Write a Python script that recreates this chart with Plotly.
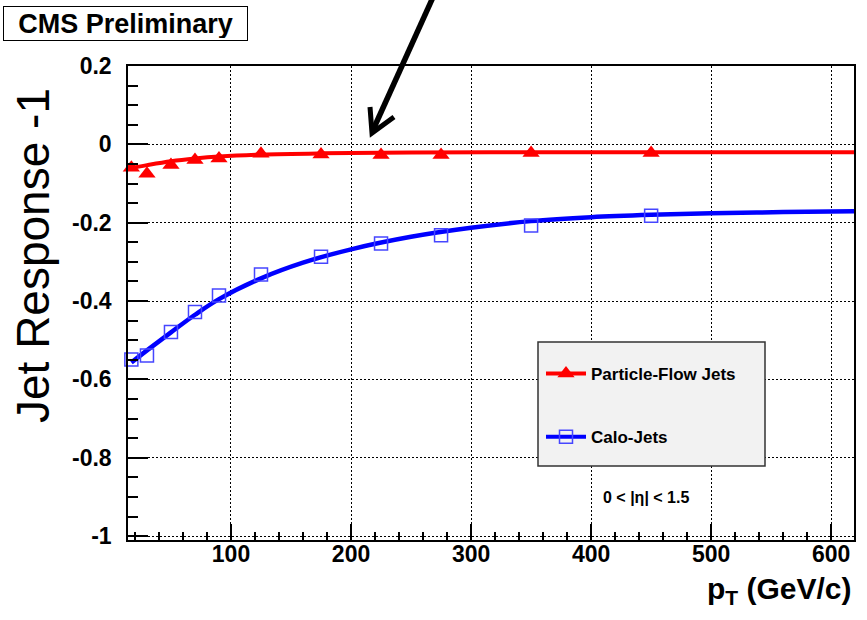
import plotly.graph_objects as go

# ---- data ----
pt_bins = [17, 30, 50, 70, 90, 125, 175, 225, 275, 350, 450]
resp_pf = [-0.060, -0.075, -0.053, -0.040, -0.036, -0.024, -0.026, -0.027, -0.027, -0.022, -0.022]
resp_calo = [-0.549, -0.539, -0.479, -0.428, -0.386, -0.332, -0.287, -0.253, -0.232, -0.207, -0.182]

fit_pf_x = [14, 30, 50, 70, 90, 125, 175, 250, 350, 450, 619]
fit_pf_y = [-0.062, -0.053, -0.043, -0.036, -0.031, -0.026, -0.023, -0.021, -0.020, -0.020, -0.020]
fit_calo_x = [17, 30, 50, 70, 90, 125, 160, 200, 250, 300, 350, 400, 450, 500, 560, 619]
fit_calo_y = [-0.557, -0.526, -0.480, -0.435, -0.395, -0.342, -0.302, -0.268, -0.236, -0.213,
              -0.196, -0.186, -0.180, -0.176, -0.173, -0.171]

y_ticks = [0.2, 0, -0.2, -0.4, -0.6, -0.8, -1]
y_ticklabels = ["0.2", "0", "-0.2", "-0.4", "-0.6", "-0.8", "-1"]
x_ticks = [100, 200, 300, 400, 500, 600]
x_ticklabels = ["100", "200", "300", "400", "500", "600"]

name_pf = "Particle-Flow Jets"
name_calo = "Calo-Jets"

RED = "#ff0000"
BLUE = "#0000ff"
FONT = "Liberation Sans"

fig = go.Figure()

fig.add_trace(go.Scatter(x=fit_pf_x, y=fit_pf_y, mode="lines", line=dict(color=RED, width=4, shape="spline"),
                         showlegend=False, hoverinfo="skip"))
fig.add_trace(go.Scatter(x=fit_calo_x, y=fit_calo_y, mode="lines", line=dict(color=BLUE, width=4.5, shape="spline"),
                         showlegend=False, hoverinfo="skip"))
fig.add_trace(go.Scatter(x=pt_bins, y=resp_pf, mode="markers", cliponaxis=False,
                         marker=dict(symbol="triangle-up", size=15, color=RED, line=dict(width=0)),
                         showlegend=False))
fig.add_trace(go.Scatter(x=pt_bins, y=resp_calo, mode="markers", cliponaxis=False,
                         marker=dict(symbol="square-open", size=13, color="rgb(70,70,255)", line=dict(width=1.5)),
                         showlegend=False))

# legend entries
fig.add_trace(go.Scatter(x=[None], y=[None], mode="lines+markers", name=name_pf, legendgroup="pf",
                         line=dict(color=RED, width=4),
                         marker=dict(symbol="triangle-up", size=15, color=RED)))
fig.add_trace(go.Scatter(x=[None], y=[None], mode="lines+markers", name=name_calo, legendgroup="calo",
                         line=dict(color=BLUE, width=4),
                         marker=dict(symbol="square-open", size=13, color="rgb(70,70,255)", line=dict(width=1.5))))

axis_common = dict(
    showline=True, linecolor="black", linewidth=1.5, mirror=True,
    ticks="inside", tickcolor="black", tickwidth=1.5,
    showgrid=True, gridcolor="black", gridwidth=1, griddash="2px,2px",
    zeroline=False,
    tickfont=dict(family=FONT, size=23, color="black", weight="bold"),
)

fig.update_xaxes(range=[14.2, 619], tickmode="array", tickvals=x_ticks, ticktext=x_ticklabels,
                 ticklen=16, ticklabelstandoff=-7,
                 minor=dict(dtick=20, tick0=0, ticks="inside", ticklen=8, tickcolor="black", tickwidth=1.5,
                            showgrid=False),
                 **axis_common)
fig.update_yaxes(range=[-1.01, 0.2], tickmode="array", tickvals=y_ticks, ticktext=y_ticklabels,
                 ticklen=20, ticklabelstandoff=10,
                 minor=dict(dtick=0.05, tick0=0, ticks="inside", ticklen=10, tickcolor="black", tickwidth=1.5,
                            showgrid=False),
                 **axis_common)

def px_x(p):
    return (p - 128) / 726.0

def px_y(p):
    return (540 - p) / 474.0

shapes = [
    # legend box
    dict(type="rect", xref="paper", yref="paper", x0=px_x(538), x1=px_x(765), y0=px_y(466), y1=px_y(342),
         fillcolor="#f2f2f2", line=dict(color="#333333", width=1.5), layer="above"),
    # arrow shaft
    dict(type="line", xref="paper", yref="paper", x0=px_x(434), y0=px_y(-5), x1=px_x(373), y1=px_y(130),
         line=dict(color="black", width=5.5)),
    # arrow head (open V)
    dict(type="path", xref="paper", yref="paper",
         path=f"M {px_x(370)} {px_y(107)} L {px_x(372)} {px_y(133)} L {px_x(394)} {px_y(117)}",
         line=dict(color="black", width=5)),
]

annotations = [
    dict(text="CMS Preliminary", xref="paper", yref="paper", x=px_x(125.5), y=px_y(23),
         xanchor="center", yanchor="middle", showarrow=False, width=239, height=29,
         bgcolor="white", bordercolor="black", borderwidth=1, borderpad=2,
         font=dict(family=FONT, size=27, color="black", weight="bold")),
    dict(text="Jet Response -1", xref="paper", yref="paper", x=px_x(33), y=px_y(256),
         xanchor="center", yanchor="middle", showarrow=False, textangle=-90,
         font=dict(family=FONT, size=46, color="black")),
    dict(text="p<sub>T</sub> (GeV/c)", xref="paper", yref="paper", x=1.0, y=px_y(590),
         xanchor="right", yanchor="middle", showarrow=False,
         font=dict(family=FONT, size=30, color="black", weight="bold")),
    dict(text="0 < |η| < 1.5", xref="paper", yref="paper", x=px_x(646), y=px_y(497),
         xanchor="center", yanchor="middle", showarrow=False,
         font=dict(family=FONT, size=16, color="black", weight="bold")),
]

fig.update_layout(
    width=867, height=620,
    margin=dict(l=128, r=13, t=66, b=80),
    paper_bgcolor="white", plot_bgcolor="white",
    shapes=shapes, annotations=annotations,
    showlegend=True,
    legend=dict(x=px_x(541), y=px_y(356), xanchor="left", yanchor="top",
                bgcolor="rgba(0,0,0,0)", borderwidth=0, tracegroupgap=38, itemwidth=40,
                font=dict(family=FONT, size=17, color="black", weight="bold")),
)

fig.write_html("out.html")
